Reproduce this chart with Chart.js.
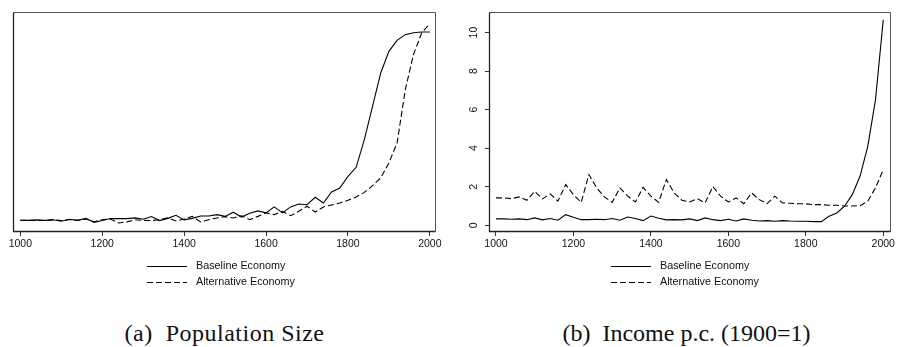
<!DOCTYPE html>
<html>
<head>
<meta charset="utf-8">
<script src="https://cdn.jsdelivr.net/npm/chart.js@4.4.1/dist/chart.umd.min.js"></script>
<style>
  html, body { margin: 0; padding: 0; background: #fff; }
  #page { position: relative; width: 898px; height: 347px; overflow: hidden; background: #fff; }
  canvas { position: absolute; top: 0; }
  #popChart { left: 0; }
  #incChart { left: 449px; }
  .caption { position: absolute; top: 321px; width: 449px; text-align: center; font-family: "Liberation Serif", serif; font-size: 24px; line-height: 24px; letter-spacing: 0.5px; white-space: pre; color: #111; }
  #capB { left: 462px; letter-spacing: 0; }
</style>
</head>
<body>
<div id="page">
  <canvas id="popChart" width="449" height="300"></canvas>
  <canvas id="incChart" width="449" height="300"></canvas>
  <div class="caption" style="left:0">(a)  Population Size</div>
  <div class="caption" id="capB">(b)  Income p.c. (1900=1)</div>
</div>
<script>
const years = [1000, 1020, 1040, 1060, 1080, 1100, 1120, 1140, 1160, 1180,
               1200, 1220, 1240, 1260, 1280, 1300, 1320, 1340, 1360, 1380,
               1400, 1420, 1440, 1460, 1480, 1500, 1520, 1540, 1560, 1580,
               1600, 1620, 1640, 1660, 1680, 1700, 1720, 1740, 1760, 1780,
               1800, 1820, 1840, 1860, 1880, 1900, 1920, 1940, 1960, 1980,
               2000];

const seriesNames = ['Baseline Economy', 'Alternative Economy'];

// population size (no units on the axis, read as 0-100 of the plot height)
const popBaseline = [5.3, 5.3, 5.5, 5.3, 5.6, 4.9, 5.8, 5.3, 6.2, 4.4,
                     5.2, 6.1, 6.1, 6.1, 6.4, 5.8, 7.0, 5.2, 6.2, 7.6,
                     5.5, 6.2, 7.3, 7.3, 7.9, 7.1, 9.0, 6.8, 8.5, 9.6,
                     8.7, 11.4, 8.7, 11.4, 12.7, 12.4, 15.8, 13.2, 18.2, 20.0,
                     25.3, 29.4, 42.0, 57.1, 72.3, 82.1, 87.1, 89.7, 90.6, 90.9,
                     90.9];
const popAlternative = [5.3, 5.3, 5.2, 5.2, 5.5, 5.2, 5.6, 5.3, 5.9, 4.7,
                        5.6, 5.9, 4.1, 4.6, 5.6, 5.3, 5.2, 5.6, 6.4, 5.0,
                        5.9, 7.1, 4.6, 5.6, 6.4, 7.0, 6.4, 7.4, 5.6, 7.1,
                        8.7, 7.9, 9.4, 7.4, 9.4, 11.7, 9.1, 11.4, 12.3, 13.2,
                        14.4, 15.9, 18.0, 21.1, 24.6, 31.4, 40.5, 64.7, 80.6, 90.5,
                        94.7];

// income per capita, 1900 = 1
const incBaseline = [0.33, 0.33, 0.31, 0.33, 0.29, 0.38, 0.28, 0.35, 0.26, 0.55,
                     0.42, 0.29, 0.29, 0.31, 0.29, 0.35, 0.26, 0.43, 0.35, 0.24,
                     0.48, 0.36, 0.28, 0.29, 0.28, 0.33, 0.24, 0.38, 0.29, 0.24,
                     0.31, 0.22, 0.33, 0.26, 0.22, 0.24, 0.21, 0.24, 0.22, 0.21,
                     0.21, 0.19, 0.19, 0.47, 0.64, 0.99, 1.59, 2.54, 4.10, 6.52,
                     10.67];
const incAlternative = [1.42, 1.42, 1.38, 1.47, 1.30, 1.76, 1.37, 1.63, 1.25, 2.11,
                        1.59, 1.19, 2.63, 1.94, 1.47, 1.19, 1.94, 1.51, 1.21, 1.97,
                        1.51, 1.19, 2.37, 1.68, 1.30, 1.21, 1.38, 1.16, 2.01, 1.51,
                        1.21, 1.42, 1.12, 1.68, 1.33, 1.12, 1.51, 1.16, 1.14, 1.12,
                        1.11, 1.07, 1.07, 1.04, 1.04, 1.00, 1.00, 1.02, 1.25, 1.94,
                        2.89];

const xTicks = [1000, 1200, 1400, 1600, 1800, 2000];
const incTicks = [0, 2, 4, 6, 8, 10];

const SANS = '"Liberation Sans", Arial, sans-serif';

//frame round the plot region, axis sides a bit darker
const boxFrame = {
    id: 'boxFrame',
    afterDraw(chart) {
        const ctx = chart.ctx;
        const a = chart.chartArea;
        const l = Math.round(a.left) + 0.5, r = Math.round(a.right) - 0.5;
        const t = Math.round(a.top) + 0.5, b = Math.round(a.bottom) - 0.5;
        ctx.save();
        ctx.lineWidth = 1;
        ctx.strokeStyle = '#555';
        ctx.beginPath();
        ctx.moveTo(l, t); ctx.lineTo(r, t); ctx.lineTo(r, b);
        ctx.stroke();
        ctx.lineWidth = 1.3;
        ctx.strokeStyle = '#222';
        ctx.beginPath();
        ctx.moveTo(l, t); ctx.lineTo(l, b); ctx.lineTo(r, b);
        ctx.stroke();
        ctx.restore();
    }
};

//legend with the two entries stacked, drawn from the datasets
const stackedLegend = {
    id: 'stackedLegend',
    afterDraw(chart, args, opts) {
        const ctx = chart.ctx;
        ctx.save();
        ctx.font = opts.font;
        ctx.textBaseline = 'middle';
        chart.data.datasets.forEach((ds, i) => {
            const y = opts.rows[i] + 0.5;
            ctx.strokeStyle = ds.borderColor;
            ctx.lineWidth = ds.borderWidth;
            ctx.setLineDash(ds.borderDash || []);
            ctx.beginPath();
            ctx.moveTo(opts.lineX[0], y);
            ctx.lineTo(opts.lineX[1], y);
            ctx.stroke();
            ctx.setLineDash([]);
            ctx.fillStyle = '#111';
            ctx.fillText(ds.label, opts.textX, y);
        });
        ctx.restore();
    }
};

//y tick labels turned 90 degrees, Stata style
const rotatedYLabels = {
    id: 'rotatedYLabels',
    afterDraw(chart, args, opts) {
        if (!opts.enabled) return;
        const ctx = chart.ctx;
        const scale = chart.scales.y;
        ctx.save();
        ctx.font = opts.font;
        ctx.fillStyle = '#111';
        ctx.textAlign = 'center';
        ctx.textBaseline = 'middle';
        scale.ticks.forEach(t => {
            ctx.save();
            ctx.translate(scale.right - opts.offset, scale.getPixelForValue(t.value));
            ctx.rotate(-Math.PI / 2);
            ctx.fillText(String(t.value), 0, 0);
            ctx.restore();
        });
        ctx.restore();
    }
};

function makeDatasets(baseline, alternative) {
    return [
        {
            label: seriesNames[0],
            data: baseline,
            borderColor: '#000',
            borderWidth: 1.1,
            pointRadius: 0,
            tension: 0,
            fill: false
        },
        {
            label: seriesNames[1],
            data: alternative,
            borderColor: '#000',
            borderWidth: 1.1,
            borderDash: [6, 3],
            pointRadius: 0,
            tension: 0,
            fill: false
        }
    ];
}

function xScale(min, max) {
    return {
        type: 'linear',
        min: min,
        max: max,
        afterBuildTicks: scale => { scale.ticks = xTicks.map(v => ({ value: v })); },
        afterFit: scale => { scale.height = 18; },
        border: { display: false },
        grid: { drawOnChartArea: false, drawTicks: true, tickLength: 4, color: '#333' },
        ticks: {
            font: { family: SANS, size: 10.5 },
            color: '#111',
            padding: 2,
            maxRotation: 0,
            autoSkip: false,
            callback: v => String(v)
        }
    };
}

function newChart(id, cfg) {
    const ctx = document.getElementById(id);
    return new Chart(ctx, cfg);
}

newChart('popChart', {
    type: 'line',
    data: { labels: years, datasets: makeDatasets(popBaseline, popAlternative) },
    plugins: [boxFrame, stackedLegend, rotatedYLabels],
    options: {
        responsive: false,
        animation: false,
        layout: { padding: { left: 13, right: 13, top: 12, bottom: 50 } },
        scales: {
            x: xScale(982, 2015),
            y: { type: 'linear', display: false, min: 0, max: 100 }
        },
        plugins: {
            legend: { display: false },
            tooltip: { enabled: false },
            stackedLegend: { font: '10.8px ' + SANS, lineX: [147, 187], textX: 196, rows: [266, 282] },
            rotatedYLabels: { enabled: false }
        }
    }
});

newChart('incChart', {
    type: 'line',
    data: { labels: years, datasets: makeDatasets(incBaseline, incAlternative) },
    plugins: [boxFrame, stackedLegend, rotatedYLabels],
    options: {
        responsive: false,
        animation: false,
        layout: { padding: { left: 0, right: 7, top: 12, bottom: 50 } },
        scales: {
            x: xScale(982, 2020),
            y: {
                type: 'linear',
                min: -0.35,
                max: 11.07,
                afterBuildTicks: scale => { scale.ticks = incTicks.map(v => ({ value: v })); },
                afterFit: scale => { scale.width = 40; },
                border: { display: false },
                grid: { drawOnChartArea: false, drawTicks: true, tickLength: 4, color: '#333' },
                ticks: { display: false }
            }
        },
        plugins: {
            legend: { display: false },
            tooltip: { enabled: false },
            stackedLegend: { font: '10.8px ' + SANS, lineX: [162, 202], textX: 211, rows: [266, 282] },
            rotatedYLabels: { enabled: true, font: '10.5px ' + SANS, offset: 15 }
        }
    }
});
</script>
</body>
</html>
